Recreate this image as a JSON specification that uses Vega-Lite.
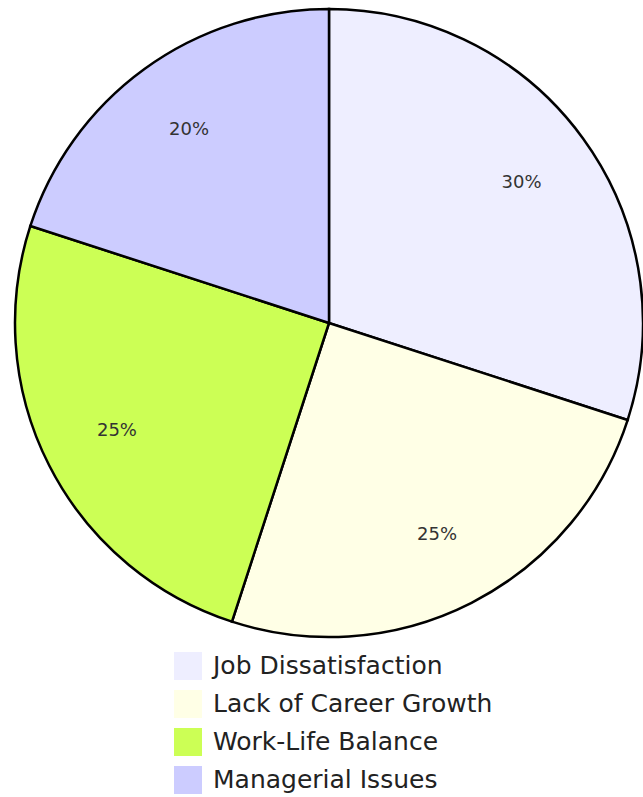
{
  "$schema": "https://vega.github.io/schema/vega-lite/v6.json",
  "width": 628,
  "height": 646,
  "autosize": {"type": "none"},
  "padding": {"left": 15, "top": 0, "right": 0, "bottom": 151},
  "background": "white",
  "config": {"view": {"stroke": null}, "font": "DejaVu Sans"},
  "data": {
    "values": [
      {"reason": "Job Dissatisfaction", "value": 30, "idx": 1, "label": "30%"},
      {"reason": "Lack of Career Growth", "value": 25, "idx": 2, "label": "25%"},
      {"reason": "Work-Life Balance", "value": 25, "idx": 3, "label": "25%"},
      {"reason": "Managerial Issues", "value": 20, "idx": 4, "label": "20%"}
    ]
  },
  "encoding": {
    "theta": {"field": "value", "type": "quantitative", "stack": true},
    "order": {"field": "idx", "type": "quantitative"}
  },
  "layer": [
    {
      "mark": {"type": "arc", "outerRadius": 314, "stroke": "black", "strokeWidth": 2.5},
      "encoding": {
        "color": {
          "field": "reason",
          "type": "nominal",
          "sort": ["Job Dissatisfaction", "Lack of Career Growth", "Work-Life Balance", "Managerial Issues"],
          "scale": {
            "domain": ["Job Dissatisfaction", "Lack of Career Growth", "Work-Life Balance", "Managerial Issues"],
            "range": ["#EEEEFF", "#FFFFE6", "#CCFF55", "#CCCCFF"]
          },
          "legend": {
            "title": null,
            "orient": "none",
            "legendX": 159,
            "legendY": 652,
            "padding": 0,
            "symbolType": "square",
            "symbolSize": 784,
            "symbolStrokeWidth": 0,
            "labelFontSize": 25,
            "labelColor": "#222222",
            "labelFont": "DejaVu Sans",
            "labelOffset": 11,
            "rowPadding": 10,
            "labelLimit": 400
          }
        }
      }
    },
    {
      "mark": {"type": "text", "radius": 238, "fontSize": 18, "fill": "#333333", "font": "DejaVu Sans"},
      "encoding": {"text": {"field": "label", "type": "nominal"}}
    }
  ]
}
